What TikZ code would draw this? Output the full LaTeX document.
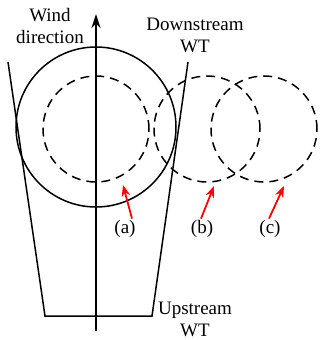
\documentclass[tikz,border=0pt]{standalone}
\usepackage{fontspec}
\setmainfont{Liberation Serif}
\usetikzlibrary{arrows.meta}

\begin{document}
\begin{tikzpicture}[
  x=1pt, y=-1pt,
  rotor/.style={draw, circle, line width=1.5pt, inner sep=0pt, minimum size=160pt},
  wake/.style={draw, circle, line width=1.5pt, dash pattern=on 9pt off 6pt, inner sep=0pt, minimum size=106pt},
  lbl/.style={font=\fontsize{19}{22}\selectfont, align=center, inner sep=1pt},
  wind/.style={-{Stealth[length=5mm, width=3.2mm]}, line width=1.5pt},
  ptr/.style={-{Stealth[length=4mm, width=3mm]}, red, line width=1.8pt}
]
\useasboundingbox (0,0) rectangle (322,340);
% upstream rotor and wake sections
\node[rotor] (up)    at (96,127)  {};
\node[wake]  (wakeA) at (96,129)  {};
\node[wake]  (wakeB) at (207,129) {};
\node[wake]  (wakeC) at (264,129) {};
% wake boundary
\coordinate (tl) at (8,62);
\coordinate (bl) at (45,316);
\coordinate (br) at (152,316);
\coordinate (tr) at (188,62);
\draw[line width=1.5pt] (tl) -- (bl) -- (br) -- (tr);
% wind direction axis
\coordinate (axbot) at (96,331);
\coordinate (axtop) at (96,14);
\draw[wind] (axbot) -- (axtop);
% texts
\node[lbl] (windtxt) at (50,26)  {Wind\\direction};
\node[lbl] (downtxt) at (195,35) {Downstream\\WT};
\node[lbl] (uptxt)   at (195,319) {Upstream\\WT};
\node[lbl, anchor=base] (labA) at (125,233) {(a)};
\node[lbl, anchor=base] (labB) at (202,233) {(b)};
\node[lbl, anchor=base] (labC) at (270,233) {(c)};
% pointers
\coordinate (tipA) at (123,185);
\coordinate (tipB) at (214,186);
\coordinate (tipC) at (284,186);
\draw[ptr] ([xshift=7pt]labA.north) -- (tipA);
\draw[ptr] ([xshift=-1pt]labB.north) -- (tipB);
\draw[ptr] ([xshift=-1pt]labC.north) -- (tipC);
\end{tikzpicture}
\end{document}
